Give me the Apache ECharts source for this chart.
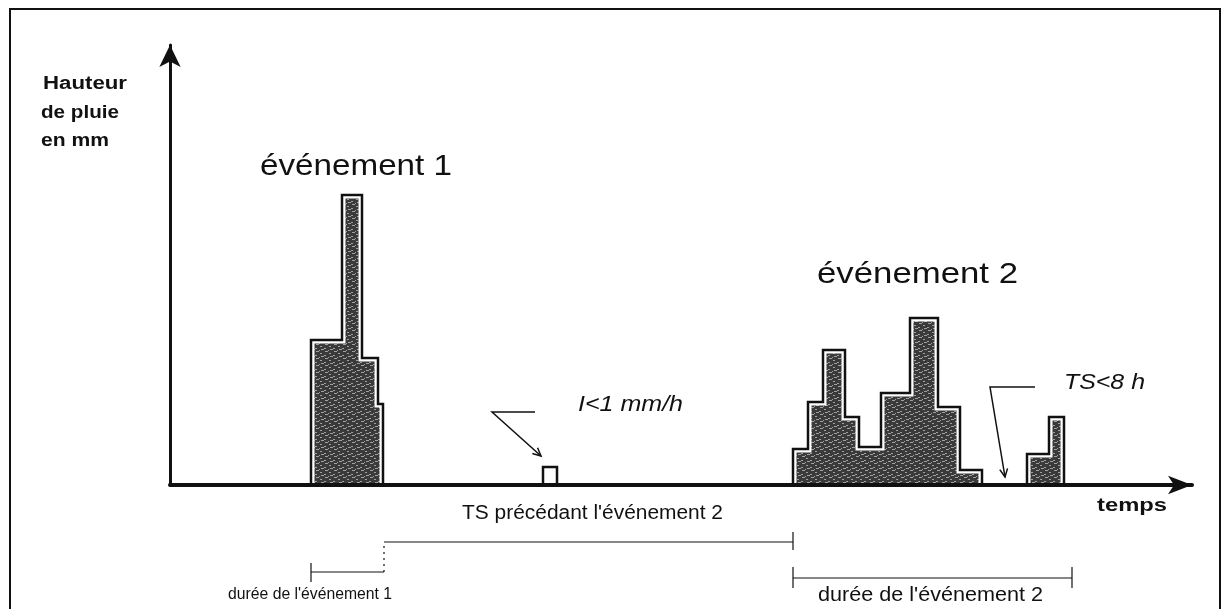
<!DOCTYPE html>
<html>
<head>
<meta charset="utf-8">
<title>Événements pluvieux</title>
<script src="https://cdn.jsdelivr.net/npm/echarts@6/dist/echarts.min.js"></script>
<style>
html, body { margin: 0; padding: 0; background: #fff; }
#chart { width: 1226px; height: 609px; }
</style>
</head>
<body>
<div id="chart"></div>
<script>
// bornes des pas de temps (h) et hauteurs de pluie (mm)
const event1Times = [14.1, 17.2, 19.2, 20.8, 21.3];
const event1Rain = [14.5, 29.0, 12.7, 8.1];
const smallTimes = [37.3, 38.7];
const smallRain = [1.8];
const event2Times = [62.3, 63.8, 65.3, 67.5, 68.9, 71.1, 74.0, 76.8, 79.0, 81.2];
const event2Rain = [3.6, 8.3, 13.5, 6.8, 3.8, 9.2, 16.7, 7.8, 1.5];
const lateTimes = [85.7, 87.9, 89.4];
const lateRain = [3.1, 6.8];

// durées repérées sous l'axe
const spanNames = ["durée de l'événement 1", "TS précédant l'événement 2", "durée de l'événement 2"];
const spanStart = [14.1, 21.4, 62.3];
const spanEnd = [21.4, 62.3, 90.2];

const ink = '#111';
const chart = echarts.init(document.getElementById('chart'));

// grainy dark fill, like the scanned hatching
const tex = document.createElement('canvas');
tex.width = 9; tex.height = 7;
const tc = tex.getContext('2d');
tc.fillStyle = '#3a3a3a';
tc.fillRect(0, 0, 9, 7);
tc.fillStyle = '#a0a0a0';
[[1, 1, 3], [5, 3, 2], [0, 5, 2], [6, 6, 3], [4, 0, 1]].forEach(([x, y, w]) => tc.fillRect(x, y, w, 1));

const blocks = (times, rain) => rain.map((h, i) => [times[i], times[i + 1], h]);
const outline = (times, rain) => {
  const pts = [[times[0], 0]];
  rain.forEach((h, i) => pts.push([times[i], h], [times[i + 1], h]));
  pts.push([times[times.length - 1], 0]);
  return pts;
};

const shapes = [
  [event1Times, event1Rain],
  [smallTimes, smallRain],
  [event2Times, event2Rain],
  [lateTimes, lateRain]
];

const series = [{
  type: 'custom',
  z: 2,
  encode: { x: [0, 1], y: 2 },
  data: [].concat(blocks(event1Times, event1Rain), blocks(event2Times, event2Rain), blocks(lateTimes, lateRain)),
  renderItem: (params, api) => {
    const a = api.coord([api.value(0), api.value(2)]);
    const b = api.coord([api.value(1), 0]);
    return {
      type: 'rect',
      shape: { x: a[0], y: a[1], width: b[0] - a[0], height: b[1] - a[1] },
      style: { fill: { image: tex, repeat: 'repeat' } }
    };
  }
}];
shapes.forEach(([t, r]) => {
  series.push({ type: 'line', z: 3, symbol: 'none', silent: true, data: outline(t, r),
    lineStyle: { color: '#fff', width: 7, join: 'miter' } });
  series.push({ type: 'line', z: 4, symbol: 'none', silent: true, data: outline(t, r),
    lineStyle: { color: ink, width: 2.5, join: 'miter' } });
});

chart.setOption({
  animation: false,
  backgroundColor: '#fff',
  grid: { left: 170, right: 34, top: 45, bottom: 124 },
  xAxis: {
    type: 'value', min: 0, max: 102.2, z: 10,
    axisLine: { lineStyle: { color: ink, width: 4 }, symbol: ['none', 'arrow'], symbolSize: [14, 24] },
    axisTick: { show: false }, axisLabel: { show: false }, splitLine: { show: false }
  },
  yAxis: {
    type: 'value', min: 0, max: 44, z: 10,
    axisLine: { show: true, lineStyle: { color: ink, width: 3 }, symbol: ['none', 'arrow'], symbolSize: [16, 22] },
    axisTick: { show: false }, axisLabel: { show: false }, splitLine: { show: false }
  },
  series: series
});

// text helper: stretch text to the width it has in the scan
const mctx = document.createElement('canvas').getContext('2d');
function label(text, left, base, width, size, weight, style) {
  const font = (style || 'normal') + ' ' + (weight || 'normal') + ' ' + size + 'px "Liberation Sans", Arial, sans-serif';
  mctx.font = font;
  const w = mctx.measureText(text).width;
  return {
    type: 'text', x: left, y: base - size * 0.36, scaleX: width / w, z: 20,
    style: { text: text, font: font, fill: ink, align: 'left', verticalAlign: 'middle' }
  };
}

function pointer(pts) {
  const n = pts.length;
  const [x1, y1] = pts[n - 2], [x2, y2] = pts[n - 1];
  const ang = Math.atan2(y2 - y1, x2 - x1);
  const head = [-0.45, 0.45].map(d => [x2 - 9 * Math.cos(ang + d), y2 - 9 * Math.sin(ang + d)]);
  return [
    { type: 'polyline', z: 20, shape: { points: pts }, style: { stroke: ink, lineWidth: 1.5, fill: 'none' } },
    { type: 'polyline', z: 20, shape: { points: [head[0], [x2, y2], head[1]] }, style: { stroke: ink, lineWidth: 1.5, fill: 'none' } }
  ];
}

const px = t => chart.convertToPixel({ xAxisIndex: 0 }, t);
const seg = (x1, y1, x2, y2, dash) => ({
  type: 'line', z: 20, shape: { x1, y1, x2, y2 },
  style: { stroke: ink, lineWidth: 1.2, lineDash: dash || null }
});

const spanY = [572, 542, 578];
const graphics = [
  { type: 'rect', z: 20, shape: { x: 10, y: 9, width: 1210, height: 640 }, style: { fill: 'none', stroke: ink, lineWidth: 2 } },
  label('Hauteur', 43, 91, 84, 18, 'bold'),
  label('de pluie', 41, 120, 78, 18, 'bold'),
  label('en mm', 41, 148, 68, 18, 'bold'),
  label('événement 1', 260, 178, 192, 30),
  label('événement 2', 817, 286, 201, 30),
  label('I<1 mm/h', 578, 413, 105, 22, 'normal', 'italic'),
  label('TS<8 h', 1064, 391, 81, 22, 'normal', 'italic'),
  label('temps', 1097, 513, 70, 18, 'bold'),
  label(spanNames[1], 462, 521, 261, 20),
  label(spanNames[0], 228, 600, 164, 16),
  label(spanNames[2], 818, 603, 225, 20)
].concat(pointer([[535, 412], [492, 412], [541, 456]]), pointer([[1035, 387], [990, 387], [1005, 477]]));

// brackets from the span arrays
const s0 = px(spanStart[0]), e0 = px(spanEnd[0]);
const s1 = px(spanStart[1]), e1 = px(spanEnd[1]);
const s2 = px(spanStart[2]), e2 = px(spanEnd[2]);
graphics.push(
  seg(s0, spanY[0], e0, spanY[0]), seg(s0, spanY[0] - 9, s0, spanY[0] + 10),
  seg(e0, spanY[0], e0, spanY[1], [2, 4]),
  seg(s1, spanY[1], e1, spanY[1]), seg(e1, spanY[1] - 10, e1, spanY[1] + 8),
  seg(s2, spanY[2], e2, spanY[2]), seg(s2, spanY[2] - 11, s2, spanY[2] + 10), seg(e2, spanY[2] - 11, e2, spanY[2] + 10)
);

chart.setOption({ graphic: graphics });
</script>
</body>
</html>
